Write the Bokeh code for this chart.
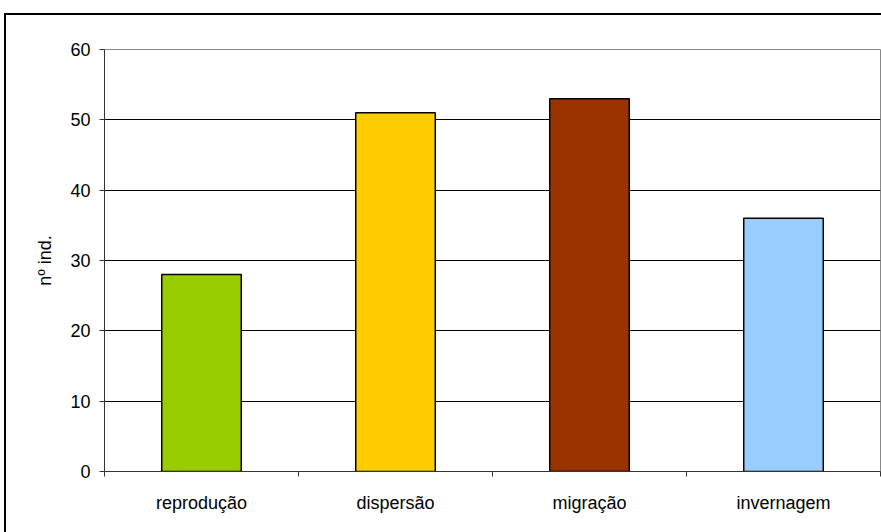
from bokeh.plotting import figure
from bokeh.models import FixedTicker, Range1d, ColumnDataSource
from bokeh.embed import file_html
from bokeh.resources import INLINE

categories = ["reprodução", "dispersão", "migração", "invernagem"]
values = [28, 51, 53, 36]
colors = ["#99CC00", "#FFCC00", "#993300", "#99CCFF"]
y_ticks = [0, 10, 20, 30, 40, 50, 60]

xpos = [i + 0.5 for i in range(len(categories))]
src = ColumnDataSource(dict(x=xpos, top=values, color=colors, cat=categories))

FONT = "Liberation Sans"

p = figure(width=877, height=519, output_backend="svg", toolbar_location=None,
           x_range=Range1d(0, len(categories)), y_range=Range1d(0, 60),
           min_border_left=98, min_border_right=3, min_border_top=34, min_border_bottom=63)
p.margin = (13, 0, 0, 4)
p.styles = {"border-left": "2px solid black", "border-top": "2px solid black", "box-sizing": "border-box"}

p.vbar(x="x", top="top", width=0.41, bottom=0, fill_color="color", line_color="black",
       line_width=1.5, source=src)

p.outline_line_color = "#888888"
p.outline_line_width = 1
p.background_fill_color = "white"
p.border_fill_color = "white"

p.xgrid.visible = False
p.ygrid.ticker = FixedTicker(ticks=y_ticks)
p.ygrid.grid_line_color = "black"
p.ygrid.grid_line_width = 1

p.yaxis.ticker = FixedTicker(ticks=y_ticks)
p.yaxis.minor_tick_line_color = None
p.yaxis.major_tick_out = 5
p.yaxis.major_tick_in = 0
p.yaxis.axis_line_color = "#333333"
p.yaxis.major_tick_line_color = "#333333"
p.yaxis.major_label_text_font = FONT
p.yaxis.major_label_text_font_size = "18px"
p.yaxis.major_label_text_color = "black"
p.yaxis.major_label_standoff = 9
p.yaxis.axis_label = "nº ind."
p.yaxis.axis_label_text_font = FONT
p.yaxis.axis_label_text_font_size = "18px"
p.yaxis.axis_label_text_font_style = "normal"
p.yaxis.axis_label_text_color = "black"
p.yaxis.axis_label_standoff = 12

p.xaxis.ticker = FixedTicker(ticks=xpos, minor_ticks=list(range(len(categories) + 1)))
p.xaxis.major_label_overrides = {x: c for x, c in zip(xpos, categories)}
p.xaxis.major_tick_out = 0
p.xaxis.major_tick_in = 0
p.xaxis.minor_tick_out = 5
p.xaxis.minor_tick_in = 0
p.xaxis.minor_tick_line_color = "#333333"
p.xaxis.axis_line_color = "#333333"
p.xaxis.major_label_text_font = FONT
p.xaxis.major_label_text_font_size = "18px"
p.xaxis.major_label_text_color = "black"
p.xaxis.major_label_standoff = 16

open("out.html", "w").write(file_html(p, INLINE))
